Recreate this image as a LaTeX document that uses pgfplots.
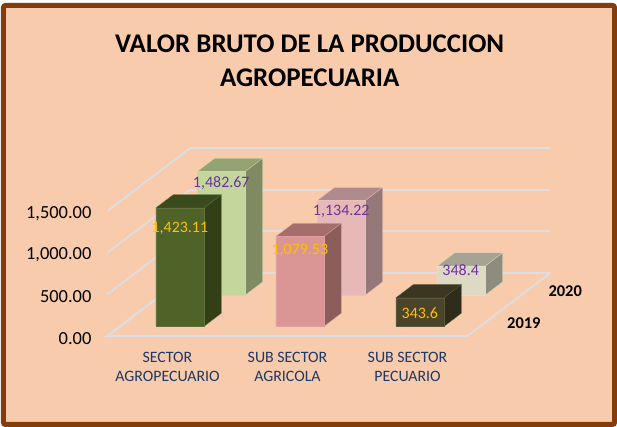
\documentclass[border=0pt]{standalone}
\usepackage{pgfplots}
\usepackage{fontspec}
\setmainfont{Carlito}
\pgfplotsset{compat=1.18}
\definecolor{bgc}{HTML}{F8CBAD}
\definecolor{framec}{HTML}{843C0C}
\definecolor{gridc}{HTML}{DEDEE2}
\definecolor{navy}{HTML}{1F3864}
\definecolor{gold}{HTML}{FFC000}
\definecolor{purp}{HTML}{7030A0}
\definecolor{af}{HTML}{DDD9C3}\definecolor{as}{HTML}{8E8C7C}\definecolor{at}{HTML}{A6A392}
\definecolor{bf}{HTML}{E6B9B8}\definecolor{bs}{HTML}{957878}\definecolor{bt}{HTML}{AF8C8B}
\definecolor{cf}{HTML}{C3D69B}\definecolor{cs}{HTML}{7F8A63}\definecolor{ct}{HTML}{95A373}
\definecolor{df}{HTML}{4A452A}\definecolor{ds}{HTML}{2F2C1B}\definecolor{dt}{HTML}{3A361F}
\definecolor{ef}{HTML}{D99694}\definecolor{es}{HTML}{8B5E5C}\definecolor{et}{HTML}{A56E6C}
\definecolor{ff}{HTML}{4F6228}\definecolor{fs}{HTML}{333F17}\definecolor{ft}{HTML}{3A4A1C}
\newcommand{\cuboid}[8]{%
  \addplot3[fill=#8,draw=#6!90!white,line width=0.3pt] coordinates {(#1,#3,#5) (#2,#3,#5) (#2,#4,#5) (#1,#4,#5) (#1,#3,#5)};
  \addplot3[fill=#7,draw=#6!90!white,line width=0.3pt] coordinates {(#2,#3,0) (#2,#4,0) (#2,#4,#5) (#2,#3,#5) (#2,#3,0)};
  \addplot3[fill=#6,draw=#6!90!white,line width=0.3pt] coordinates {(#1,#3,0) (#2,#3,0) (#2,#3,#5) (#1,#3,#5) (#1,#3,0)};
}
\begin{document}
\begin{tikzpicture}[x=1pt,y=1pt]
\path (0,0) rectangle (617,428);
\draw[framec,line width=5pt,fill=bgc,rounded corners=2pt] (3.5,2.5) rectangle (616,422.5);
\node[align=center,font=\bfseries\fontsize{27}{34}\selectfont,black] at (310.5,367) {VALOR BRUTO DE LA PRODUCCION\\AGROPECUARIA};
\begin{axis}[
  at={(107.7pt,91.3pt)},anchor=origin,
  x={(120.3pt,0pt)},y={(83pt,63pt)},z={(0pt,0.0835pt)},
  xmin=0,xmax=3,ymin=0,ymax=1,zmin=0,zmax=1500,
  clip=false,
  axis line style={draw=none},
  tick style={draw=none},
  zmajorgrids=true,
  major grid style={gridc,line width=1.8pt},
  xtick={0.5,1.5,2.5},
  xticklabels={SECTOR\\AGROPECUARIO,SUB SECTOR\\AGRICOLA,SUB SECTOR\\PECUARIO},
  xticklabel style={align=center,text=navy,font=\fontsize{15.9}{19}\selectfont,anchor=north,yshift=-13pt},
  ytick={0.25,0.75},
  yticklabels={2019,2020},
  yticklabel style={anchor=west,font=\bfseries\fontsize{16.5}{18}\selectfont,black,xshift=15.5pt,yshift=-2.5pt},
  ztick={0,500,1000,1500},
  zticklabel style={anchor=east,font=\fontsize{18.5}{20}\selectfont,black,xshift=-12.5pt,yshift=-2.5pt},
  /pgf/number format/assume math mode=true,
  /pgf/number format/.cd,fixed,fixed zerofill,precision=2,1000 sep={,},
]
\addplot3[draw=gridc,line width=1.8pt,forget plot] coordinates {(0,1,0) (0,0,0) (3,0,0) (3,1,0)};
\cuboid{2.30}{2.70}{0.65}{0.86}{348.4}{af}{as}{at}
\cuboid{1.30}{1.70}{0.65}{0.86}{1134.22}{bf}{bs}{bt}
\cuboid{0.30}{0.70}{0.65}{0.86}{1482.67}{cf}{cs}{ct}
\cuboid{2.30}{2.70}{0.15}{0.36}{343.6}{df}{ds}{dt}
\cuboid{1.30}{1.70}{0.15}{0.36}{1079.53}{ef}{es}{et}
\cuboid{0.30}{0.70}{0.15}{0.36}{1423.11}{ff}{fs}{ft}
\node[text=gold,font=\fontsize{16}{18}\selectfont] at (axis cs:0.50,0.15,1175) {1,423.11};
\node[text=gold,font=\fontsize{16}{18}\selectfont] at (axis cs:1.50,0.15,910) {1,079.53};
\node[text=gold,font=\fontsize{16}{18}\selectfont] at (axis cs:2.50,0.15,165) {343.6};
\node[text=purp,font=\fontsize{16}{18}\selectfont] at (axis cs:0.50,0.65,1340) {1,482.67};
\node[text=purp,font=\fontsize{16}{18}\selectfont] at (axis cs:1.50,0.65,1000) {1,134.22};
\node[text=purp,font=\fontsize{16}{18}\selectfont] at (axis cs:2.495,0.65,295) {348.4};
\end{axis}
\end{tikzpicture}
\end{document}
